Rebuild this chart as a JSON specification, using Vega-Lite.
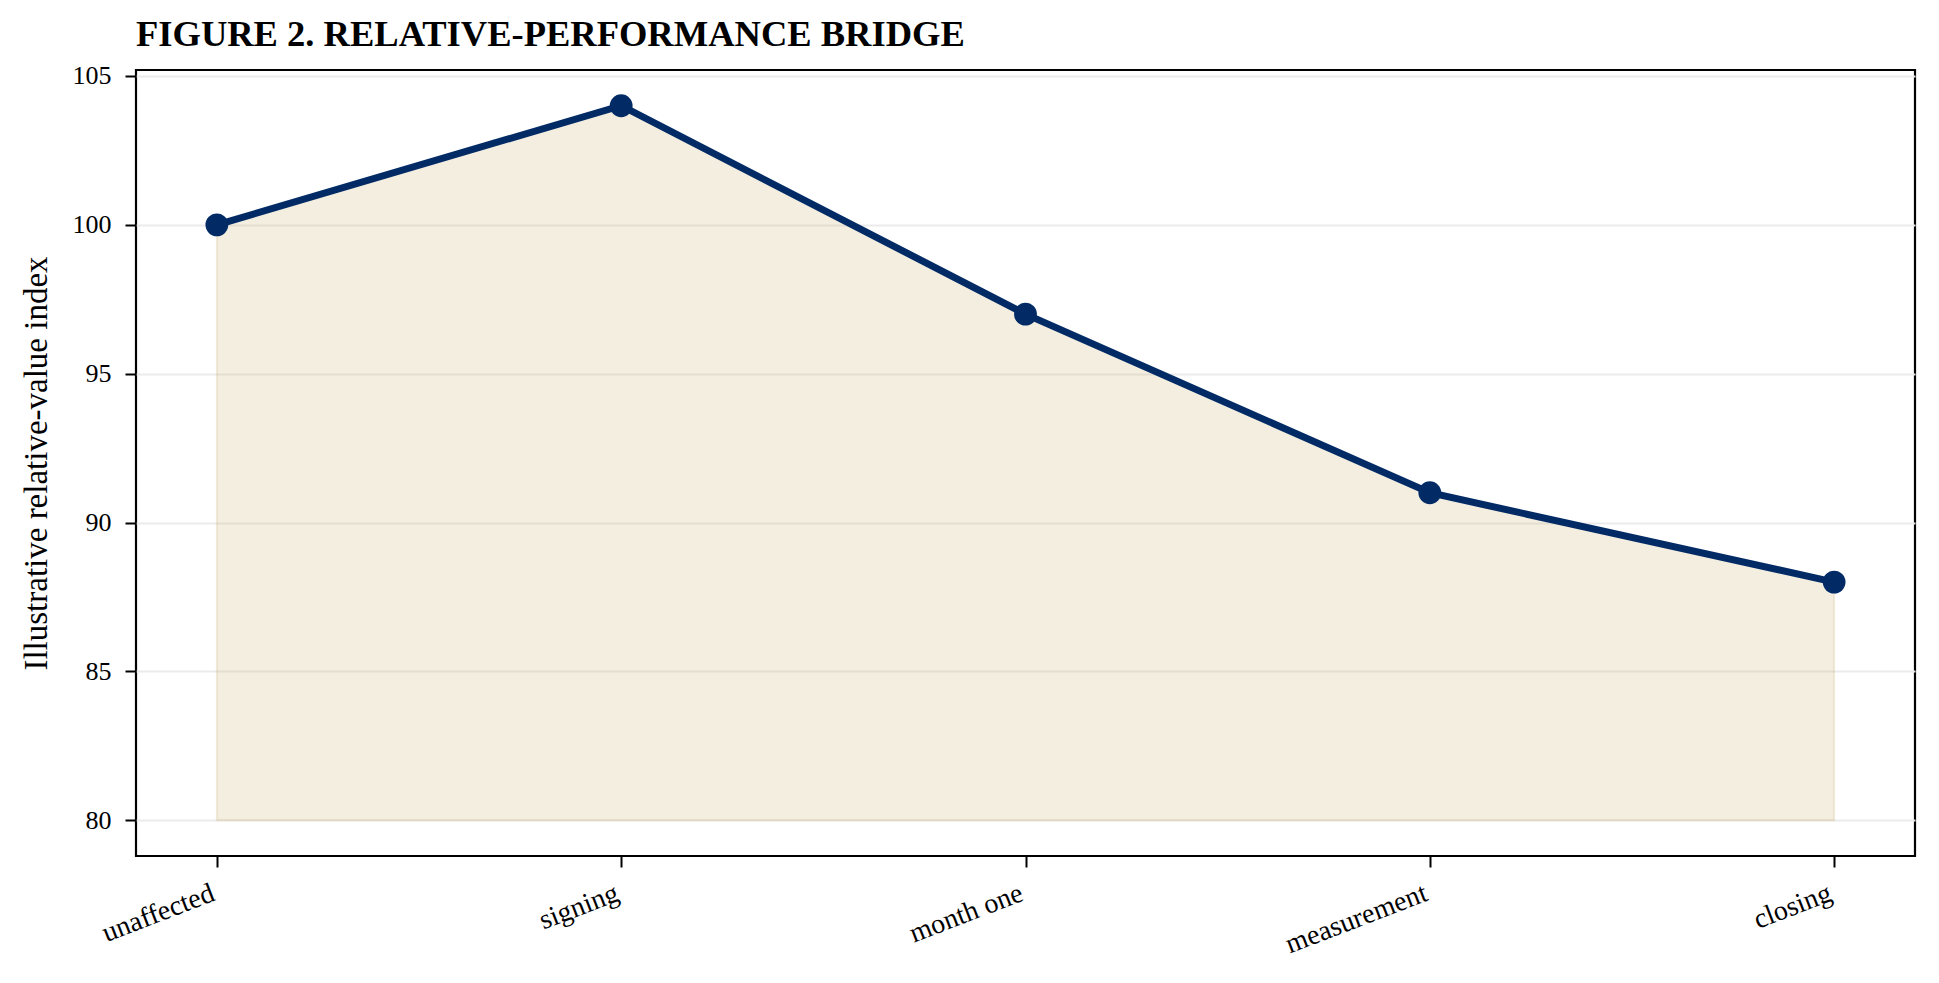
{
  "$schema": "https://vega.github.io/schema/vega-lite/v6.json",
  "autosize": {"type": "none"},
  "width": 1779,
  "height": 786,
  "padding": {"left": 136, "top": 70, "right": 24, "bottom": 127},
  "background": "white",
  "title": {
    "text": "FIGURE 2. RELATIVE-PERFORMANCE BRIDGE",
    "font": "Liberation Serif",
    "fontSize": 36.5,
    "fontWeight": "bold",
    "color": "black",
    "anchor": "start",
    "frame": "group",
    "baseline": "alphabetic",
    "offset": -20
  },
  "config": {
    "view": {"stroke": "black", "strokeWidth": 2.2},
    "axis": {
      "labelFont": "Liberation Serif",
      "titleFont": "Liberation Serif",
      "labelColor": "black",
      "titleColor": "black",
      "tickColor": "black",
      "domain": false
    }
  },
  "data": {
    "values": [
      {"stage": "unaffected", "index": 100},
      {"stage": "signing", "index": 104},
      {"stage": "month one", "index": 97},
      {"stage": "measurement", "index": 91},
      {"stage": "closing", "index": 88}
    ]
  },
  "encoding": {
    "x": {
      "field": "stage",
      "type": "ordinal",
      "sort": null,
      "scale": {"type": "point", "padding": 0.2},
      "axis": {
        "title": null,
        "labelAngle": -21,
        "labelAlign": "right",
        "labelBaseline": "top",
        "labelFontSize": 28,
        "labelPadding": 12,
        "labelOffset": -9,
        "tickSize": 11,
        "tickWidth": 2,
        "grid": false
      }
    },
    "y": {
      "field": "index",
      "type": "quantitative",
      "scale": {"domain": [78.8, 105.2], "nice": false, "zero": false},
      "axis": {
        "title": "Illustrative relative-value index",
        "titleFontSize": 33,
        "titleFontWeight": "normal",
        "titlePadding": 19,
        "values": [80, 85, 90, 95, 100, 105],
        "labelFontSize": 26,
        "labelPadding": 14,
        "tickSize": 11,
        "tickWidth": 2,
        "grid": true,
        "gridColor": "#ebebeb",
        "gridWidth": 2.2
      }
    }
  },
  "layer": [
    {
      "mark": {
        "type": "area",
        "color": "#c9a96b",
        "fillOpacity": 0.2,
        "stroke": "#c9a96b",
        "strokeOpacity": 0.22,
        "strokeWidth": 2
      },
      "encoding": {"y2": {"datum": 80}}
    },
    {
      "mark": {"type": "line", "color": "#022b66", "strokeWidth": 7},
      "encoding": {}
    },
    {
      "mark": {"type": "point", "filled": true, "color": "#022b66", "opacity": 1, "size": 520},
      "encoding": {}
    }
  ]
}
